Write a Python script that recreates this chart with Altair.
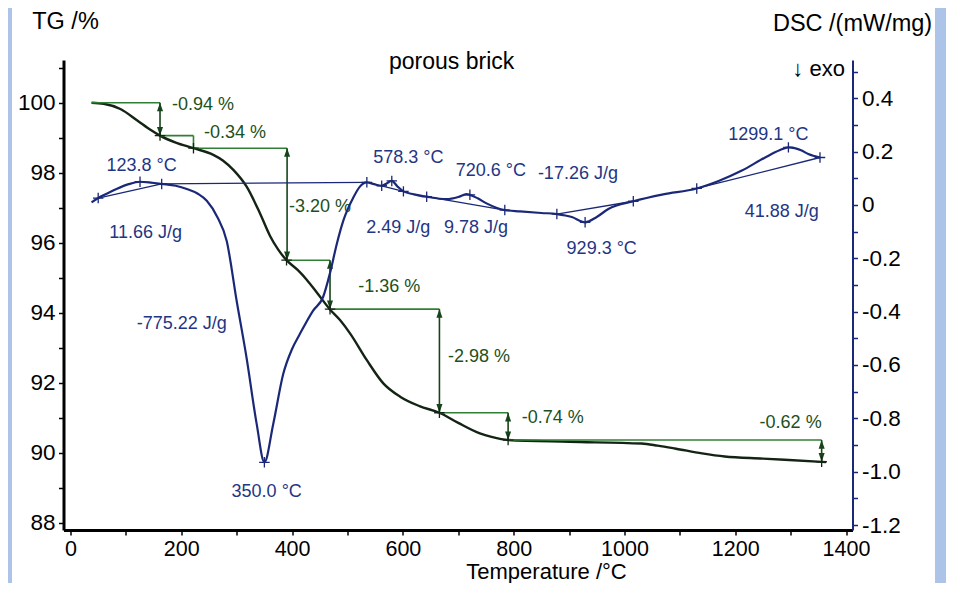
import altair as alt
import pandas as pd

FONT = "Liberation Sans"

# ---------------- data ----------------
tg_temp = [38, 60, 90, 120, 145, 161.6, 190, 222, 257.8, 275, 294, 318, 342, 360, 375, 390,
           410, 426, 445, 468, 486.5, 504.6, 534.7, 564.7, 595, 630, 666, 700, 739, 760, 790,
           900, 1031, 1060, 1091, 1140, 1181, 1250, 1364]
tg_mass = [100.0, 99.97, 99.82, 99.5, 99.22, 99.06, 98.86, 98.70, 98.51, 98.35, 98.08, 97.6,
           96.84, 96.2, 95.8, 95.5, 95.22, 94.95, 94.57, 94.1, 93.79, 93.41, 92.65, 91.98,
           91.6, 91.33, 91.14, 90.85, 90.55, 90.45, 90.36, 90.31, 90.26, 90.2, 90.12, 89.98,
           89.89, 89.83, 89.73]

dsc_temp = [38, 50, 65, 83, 105, 125.5, 145, 164.6, 190, 210, 230, 246, 265, 282, 300, 318,
            336, 350, 366, 384, 400, 414, 438, 456, 468.5, 480.5, 492.5, 510.6, 522, 535, 548,
            561.8, 570, 580, 590, 601, 620, 643, 679, 700, 715, 721, 735, 751, 784, 811.5, 850,
            878, 905, 929, 950, 971, 1016, 1070, 1130.5, 1170, 1212, 1254, 1280, 1296, 1320,
            1332, 1353]
dsc_val = [0.010, 0.026, 0.042, 0.060, 0.078, 0.087, 0.084, 0.079, 0.072, 0.060, 0.042, 0.016,
           -0.045, -0.135, -0.360, -0.575, -0.820, -0.965, -0.821, -0.634, -0.540, -0.484,
           -0.396, -0.345, -0.255, -0.148, -0.059, 0.028, 0.068, 0.085, 0.078, 0.072, 0.080,
           0.090, 0.070, 0.051, 0.040, 0.031, 0.022, 0.030, 0.041, 0.038, 0.025, 0.006, -0.019,
           -0.024, -0.030, -0.034, -0.045, -0.065, -0.045, -0.015, 0.014, 0.040, 0.062, 0.090,
           0.129, 0.178, 0.205, 0.216, 0.204, 0.191, 0.178]

# TG step construction lines
step_t1 = [38, 161.6, 222, 222, 390, 468.5, 666, 790]
step_m1 = [100.0, 99.06, 99.06, 98.70, 95.5, 94.1, 91.14, 90.36]
step_t2 = [161.6, 222, 222, 391, 468.5, 666, 790, 1356]
step_m2 = [100.0, 99.06, 98.70, 98.70, 95.5, 94.1, 91.14, 90.36]

# TG step arrows
arrow_t = [161.6, 391, 468.5, 666, 790, 1356]
arrow_top = [100.0, 98.70, 95.5, 94.1, 91.14, 90.36]
arrow_bottom = [99.06, 95.5, 94.1, 91.14, 90.36, 89.74]

# TG step points
tg_mark_t = [161.6, 222, 390, 468.5, 666, 790, 1356]
tg_mark_m = [99.06, 98.70, 95.5, 94.1, 91.14, 90.36, 89.74]

# TG step labels
tg_labels = ["-0.94 %", "-0.34 %", "-3.20 %", "-1.36 %", "-2.98 %", "-0.74 %"]
tg_label_t = [183.2, 241, 394.5, 519.6, 681.5, 814.6]
tg_label_m = [99.93, 99.13, 97.03, 94.74, 92.74, 90.98]
tg_label_right = ["-0.62 %"]
tg_label_right_t = [1356]
tg_label_right_m = [90.84]

# DSC peak points
dsc_mark_t = [50, 125.5, 164.6, 350, 535, 561.8, 580, 601, 643, 721, 784, 878, 929, 1016,
              1130.5, 1296, 1353]
dsc_mark_v = [0.026, 0.087, 0.079, -0.965, 0.085, 0.072, 0.090, 0.051, 0.031, 0.038, -0.019,
              -0.034, -0.065, 0.014, 0.062, 0.216, 0.178]

# DSC peak baselines
base_t1 = [50, 164.6, 561.8, 643, 878, 1130.5]
base_v1 = [0.026, 0.079, 0.072, 0.031, -0.034, 0.062]
base_t2 = [164.6, 535, 601, 784, 1016, 1353]
base_v2 = [0.079, 0.085, 0.051, -0.019, 0.014, 0.178]

# DSC labels
dsc_labels = ["123.8 °C", "11.66 J/g", "578.3 °C", "720.6 °C", "-17.26 J/g", "2.49 J/g",
              "9.78 J/g", "929.3 °C", "1299.1 °C", "41.88 J/g", "-775.22 J/g", "350.0 °C"]
dsc_label_t = [128.5, 135.8, 609.9, 759, 916, 591.8, 732, 959, 1259.8, 1284, 200.8, 354.2]
dsc_label_v = [0.147, -0.105, 0.178, 0.129, 0.116, -0.088, -0.088, -0.165, 0.262, -0.028,
               -0.446, -1.078]

title_text = ["porous brick"]
title_t = [688]
title_m = [101.17]
exo_text = ["↓ exo"]
exo_t = [1398]
exo_v = [0.51]

x_ticks = list(range(0, 1401, 100))
tg_ticks = list(range(88, 102))
dsc_ticks = [-1.2, -1.1, -1.0, -0.9, -0.8, -0.7, -0.6, -0.5, -0.4, -0.3, -0.2, -0.1, 0.0,
             0.1, 0.2, 0.3, 0.4, 0.5]

# ---------------- styles ----------------
TG_COLOR = "#142414"
GREEN_LINE = "#2f7f34"
GREEN_DARK = "#17441a"
GREEN_TEXT = "#1c5022"
NAVY = "#1b2878"
NAVY_TEXT = "#1f3684"
FRAME_BLUE = "#aec3e8"

UP = "M0,0L-0.35,1L0.35,1Z"
DOWN = "M0,0L-0.35,-1L0.35,-1Z"
CROSS = "M-1,0L1,0M0,-1L0,1"

XS = alt.Scale(domain=[-12.64, 1411.7], nice=False, zero=False)
YT = alt.Scale(domain=[87.79, 101.22], nice=False, zero=False)
YD = alt.Scale(domain=[-1.2187, 0.5436], nice=False, zero=False)

x_axis = alt.Axis(
    orient="bottom", values=x_ticks, format="d",
    labelExpr="datum.value % 200 == 0 ? datum.label : ''",
    title="Temperature /°C", titleX=482.5, titleY=48, titleAngle=0, titleAlign="center",
    titleBaseline="alphabetic", titleFont=FONT, titleFontSize=22, titleFontWeight="normal",
    titleColor="black", labelFont=FONT, labelFontSize=21.5, labelColor="black",
    labelPadding=3, labelFlush=False, labelOverlap=False, tickSize=5, tickWidth=1.5,
    tickColor="black", domainColor="black", domainWidth=3, grid=False, zindex=2)

tg_axis = alt.Axis(
    orient="left", values=tg_ticks,
    labelExpr="datum.value % 2 == 0 ? datum.label : ''",
    title="TG /%", titleX=-31.8, titleY=-38.3, titleAngle=0, titleAlign="left",
    titleBaseline="middle", titleFont=FONT, titleFontSize=23.5, titleFontWeight="normal",
    titleColor="black", labelFont=FONT, labelFontSize=22.5, labelColor="black",
    labelPadding=3.5, labelFlush=False, labelOverlap=False, tickSize=5, tickWidth=1.5,
    tickColor="black", domainColor="black", domainWidth=3, grid=False, zindex=2)

dsc_axis = alt.Axis(
    orient="right", values=dsc_ticks,
    labelExpr=("round(datum.value*10) == 0 ? '0' : (abs(round(datum.value*10)) % 2 == 0 ? "
               "replace(format(datum.value, '.1f'), '\u2212', '-') : '')"),
    title="DSC /(mW/mg)", titleX=79.2, titleY=-36.7, titleAngle=0, titleAlign="right",
    titleBaseline="middle", titleFont=FONT, titleFontSize=23.5, titleFontWeight="normal",
    titleColor="black", labelFont=FONT, labelFontSize=22.5, labelColor="black",
    labelPadding=4, labelFlush=False, labelOverlap=False, tickSize=5, tickWidth=1.5,
    tickColor=NAVY, domainColor=NAVY, domainWidth=2, grid=False, zindex=2)


def X(field):
    return alt.X(field, type="quantitative", scale=XS, axis=x_axis)


def YTG(field):
    return alt.Y(field, type="quantitative", scale=YT, axis=tg_axis)


def YDSC(field):
    return alt.Y(field, type="quantitative", scale=YD, axis=dsc_axis)


# ---------------- frames ----------------
tg_df = pd.DataFrame({"t": tg_temp, "m": tg_mass})
dsc_df = pd.DataFrame({"t": dsc_temp, "v": dsc_val})
step_df = pd.DataFrame({"t": step_t1, "m": step_m1, "t2": step_t2, "m2": step_m2})
arrow_df = pd.DataFrame({"t": arrow_t, "top": arrow_top, "bottom": arrow_bottom})
tgm_df = pd.DataFrame({"t": tg_mark_t, "m": tg_mark_m})
tgl_df = pd.DataFrame({"t": tg_label_t, "m": tg_label_m, "label": tg_labels})
tglr_df = pd.DataFrame({"t": tg_label_right_t, "m": tg_label_right_m, "label": tg_label_right})
dscm_df = pd.DataFrame({"t": dsc_mark_t, "v": dsc_mark_v})
base_df = pd.DataFrame({"t": base_t1, "v": base_v1, "t2": base_t2, "v2": base_v2})
dscl_df = pd.DataFrame({"t": dsc_label_t, "v": dsc_label_v, "label": dsc_labels})
title_df = pd.DataFrame({"t": title_t, "m": title_m, "label": title_text})
exo_df = pd.DataFrame({"t": exo_t, "v": exo_v, "label": exo_text})

# ---------------- blue frame strips (decoration) ----------------
strip_left = alt.Chart(pd.DataFrame({"a": [0]})).mark_rect(color=FRAME_BLUE).encode(
    x=alt.value(-60), x2=alt.value(-51.5), y=alt.value(-60), y2=alt.value(600))
strip_right = alt.Chart(pd.DataFrame({"a": [0]})).mark_rect(color=FRAME_BLUE).encode(
    x=alt.value(871.5), x2=alt.value(900), y=alt.value(-60), y2=alt.value(600))

# ---------------- TG group ----------------
tg_line = alt.Chart(tg_df).mark_line(color=TG_COLOR, strokeWidth=2.4, interpolate="monotone").encode(
    x=X("t"), y=YTG("m"))

steps = alt.Chart(step_df).mark_rule(color=GREEN_LINE, strokeWidth=1.6).encode(
    x=X("t"), y=YTG("m"), x2="t2", y2="m2")

arrow_rules = alt.Chart(arrow_df).mark_rule(color=GREEN_DARK, strokeWidth=1.6).encode(
    x=X("t"), y=YTG("top"), y2="bottom")

arrow_up = alt.Chart(arrow_df).mark_point(shape=UP, filled=True, size=300, color=GREEN_DARK,
                                          opacity=1, strokeWidth=0).encode(
    x=X("t"), y=YTG("top"))

arrow_down = alt.Chart(arrow_df).mark_point(shape=DOWN, filled=True, size=300, color=GREEN_DARK,
                                            opacity=1, strokeWidth=0).encode(
    x=X("t"), y=YTG("bottom"))

tg_marks = alt.Chart(tgm_df).mark_point(shape=CROSS, filled=False, size=110, color=TG_COLOR,
                                        opacity=1, strokeWidth=1.3).encode(
    x=X("t"), y=YTG("m"))

tg_text = alt.Chart(tgl_df).mark_text(align="left", baseline="middle", font=FONT, fontSize=18,
                                      color=GREEN_TEXT).encode(
    x=X("t"), y=YTG("m"), text="label")

tg_text_r = alt.Chart(tglr_df).mark_text(align="right", baseline="middle", font=FONT, fontSize=18,
                                         color=GREEN_TEXT).encode(
    x=X("t"), y=YTG("m"), text="label")

title = alt.Chart(title_df).mark_text(align="center", baseline="middle", font=FONT, fontSize=23,
                                      color="black").encode(
    x=X("t"), y=YTG("m"), text="label")

tg_group = alt.layer(tg_line, steps, arrow_rules, arrow_up, arrow_down, tg_marks, tg_text,
                     tg_text_r, title)

# ---------------- DSC group ----------------
dsc_line = alt.Chart(dsc_df).mark_line(color=NAVY, strokeWidth=2.2, interpolate="monotone").encode(
    x=X("t"), y=YDSC("v"))

baselines = alt.Chart(base_df).mark_rule(color=NAVY, strokeWidth=1.3).encode(
    x=X("t"), y=YDSC("v"), x2="t2", y2="v2")

dsc_marks = alt.Chart(dscm_df).mark_point(shape=CROSS, filled=False, size=110, color=NAVY,
                                          opacity=1, strokeWidth=1.3).encode(
    x=X("t"), y=YDSC("v"))

dsc_text = alt.Chart(dscl_df).mark_text(align="center", baseline="middle", font=FONT, fontSize=18,
                                        color=NAVY_TEXT).encode(
    x=X("t"), y=YDSC("v"), text="label")

exo = alt.Chart(exo_df).mark_text(align="right", baseline="middle", font=FONT, fontSize=22,
                                  color="black").encode(
    x=X("t"), y=YDSC("v"), text="label")

dsc_group = alt.layer(dsc_line, baselines, dsc_marks, dsc_text, exo)

chart = alt.layer(tg_group, dsc_group, strip_left, strip_right).resolve_scale(y="independent").properties(
    width=789, height=470,
    padding={"left": 55.5, "top": 52, "right": 93.5, "bottom": 53},
    autosize=alt.AutoSizeParams(type="none"),
    background="white",
).configure_view(stroke=None)

chart.save("out.html", embed_options={"renderer": "svg", "actions": False})
